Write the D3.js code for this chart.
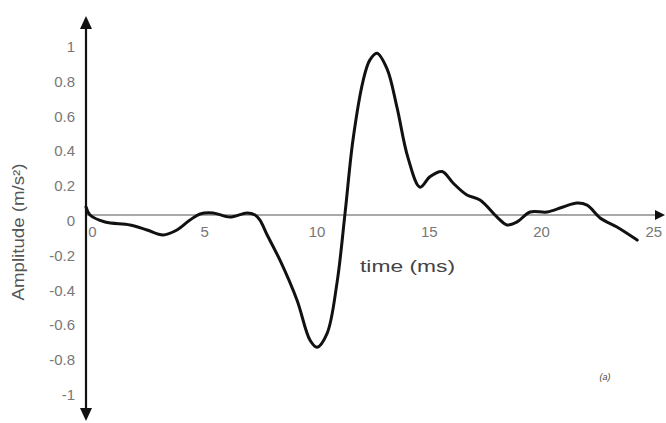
<!DOCTYPE html>
<html><head><meta charset="utf-8">
<script src="https://cdn.jsdelivr.net/npm/d3@7"></script>
<style>html,body{margin:0;padding:0;background:#fff;}svg{display:block;font-family:Arial,"Liberation Sans",sans-serif;}</style>
</head><body>
<script>
const times = [-0.29,-0.11,0.56,1.67,2.43,3.14,3.76,4.34,4.79,5.37,6.12,6.88,7.24,7.46,7.78,8.35,9.11,9.69,10.0,10.45,10.89,11.25,11.60,12.05,12.35,12.67,13.12,13.56,14.05,14.59,15.03,15.57,16.06,16.68,17.26,18.02,18.46,18.91,19.49,20.25,20.96,21.58,22.03,22.61,23.36,24.26];
const amplitude = [0.046,0.0,-0.040,-0.057,-0.086,-0.115,-0.086,-0.029,0.006,0.012,-0.012,0.012,0.0,-0.03,-0.115,-0.26,-0.49,-0.72,-0.76,-0.68,-0.39,0.012,0.43,0.77,0.89,0.93,0.84,0.62,0.33,0.16,0.22,0.25,0.184,0.115,0.086,-0.012,-0.057,-0.040,0.017,0.017,0.046,0.069,0.057,-0.017,-0.069,-0.144];
const xTicks = [0,5,10,15,20,25];
const yTicks = [1,0.8,0.6,0.4,0.2,0,-0.2,-0.4,-0.6,-0.8,-1];
const xTitle = "time (ms)";
const yTitle = "Amplitude (m/s²)";
const panelLabel = "(a)";

const W = 666, H = 423;
const svg = d3.select("body").append("svg").attr("width", W).attr("height", H);
const x = d3.scaleLinear().domain([-0.29, 25.5]).range([86, 665]);
const y = d3.scaleLinear().domain([-1, 1]).range([389, 41]);
const data = times.map((t, i) => ({t, v: amplitude[i]}));

// x axis line (thin grey)
svg.append("line").attr("x1", x(-0.29)).attr("x2", 660).attr("y1", y(0)).attr("y2", y(0))
  .attr("stroke", "#555").attr("stroke-width", 1.2);
svg.append("path").attr("d", `M665,${y(0)} L655,${y(0)-5} L655,${y(0)+5} Z`).attr("fill", "#111");

// y axis line
const ax = x(-0.29);
svg.append("line").attr("x1", ax).attr("x2", ax).attr("y1", 24).attr("y2", 414)
  .attr("stroke", "#111").attr("stroke-width", 2.2);
svg.append("path").attr("d", `M${ax},16 L${ax-6},29 L${ax+6},29 Z`).attr("fill", "#111");
svg.append("path").attr("d", `M${ax},421 L${ax-6},408 L${ax+6},408 Z`).attr("fill", "#111");

// y tick labels
svg.append("g").selectAll("text").data(yTicks).join("text")
  .attr("x", 75).attr("y", d => y(d) + 7)
  .attr("text-anchor", "end").attr("dominant-baseline", "middle")
  .attr("font-size", 15).attr("fill", "#777")
  .text(d => String(d));

// x tick labels
svg.append("g").selectAll("text").data(xTicks).join("text")
  .attr("x", d => x(d)).attr("y", 233)
  .attr("text-anchor", "middle").attr("dominant-baseline", "middle")
  .attr("font-size", 15).attr("fill", "#777")
  .text(d => d);

// curve
const line = d3.line().x(d => x(d.t)).y(d => y(d.v)).curve(d3.curveCatmullRom.alpha(0.5));
svg.append("path").datum(data).attr("d", line)
  .attr("fill", "none").attr("stroke", "#111").attr("stroke-width", 3)
  .attr("stroke-linejoin", "round").attr("stroke-linecap", "round");

// titles
svg.append("text").attr("x", 360).attr("y", 268).attr("dominant-baseline", "middle")
  .attr("font-size", 17).attr("fill", "#444")
  .attr("textLength", 95).attr("lengthAdjust", "spacingAndGlyphs").text(xTitle);
svg.append("text").attr("transform", "translate(20,232) rotate(-90)")
  .attr("text-anchor", "middle").attr("dominant-baseline", "middle")
  .attr("font-size", 16).attr("fill", "#555")
  .attr("textLength", 137).attr("lengthAdjust", "spacingAndGlyphs").text(yTitle);
svg.append("text").attr("x", 605).attr("y", 378).attr("text-anchor", "middle")
  .attr("dominant-baseline", "middle").attr("font-size", 9).attr("font-style", "italic")
  .attr("fill", "#444").text(panelLabel);
</script>
</body></html>
